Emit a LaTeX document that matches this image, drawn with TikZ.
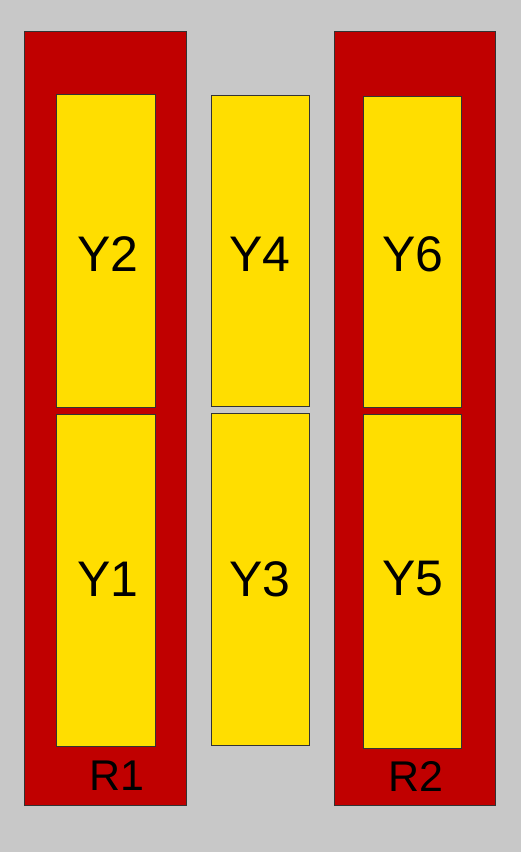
\documentclass[tikz,border=0pt]{standalone}
\usepackage{fontspec}
\setmainfont{Liberation Sans}
\definecolor{bg}{HTML}{C8C8C8}
\definecolor{rred}{HTML}{C00000}
\definecolor{yel}{HTML}{FFDE00}
\definecolor{edge}{HTML}{333333}
\begin{document}
\begin{tikzpicture}[x=1pt,y=-1pt,
  box/.style={draw=edge,line width=0.8pt,inner sep=0pt,outer sep=0pt,rectangle},
  rbox/.style={box,fill=rred},
  ybox/.style={box,fill=yel},
  ylabel/.style={inner sep=0pt,font=\fontsize{50}{50}\selectfont},
  rlabel/.style={inner sep=0pt,font=\fontsize{43}{43}\selectfont}]
\fill[bg] (0,0) rectangle (521,852);
\useasboundingbox (0,0) rectangle (521,852);
% red frames
\node[rbox,minimum width=162pt,minimum height=774pt] (r1) at (105,418) {};
\node[rbox,minimum width=161pt,minimum height=774pt] (r2) at (414.5,418) {};
% yellow boxes
\node[ybox,minimum width=99pt,minimum height=313pt] (y2) at (105.5,250.5) {};
\node[ybox,minimum width=99pt,minimum height=332pt] (y1) at (105.5,580) {};
\node[ybox,minimum width=98pt,minimum height=311pt] (y4) at (260,250.5) {};
\node[ybox,minimum width=98pt,minimum height=332pt] (y3) at (260,579) {};
\node[ybox,minimum width=98pt,minimum height=311pt] (y6) at (412,251.5) {};
\node[ybox,minimum width=98pt,minimum height=334pt] (y5) at (412,581) {};
% labels
\node[ylabel] (t2) at (108,254.5) {Y2};
\node[ylabel] (t1) at (108,579) {Y1};
\node[ylabel] (t4) at (260,254.5) {Y4};
\node[ylabel] (t3) at (260,579) {Y3};
\node[ylabel] (t6) at (413,254.5) {Y6};
\node[ylabel] (t5) at (413,579) {Y5};
\node[rlabel] (l1) at (117,776) {R1};
\node[rlabel] (l2) at (416,776) {R2};
\end{tikzpicture}
\end{document}
